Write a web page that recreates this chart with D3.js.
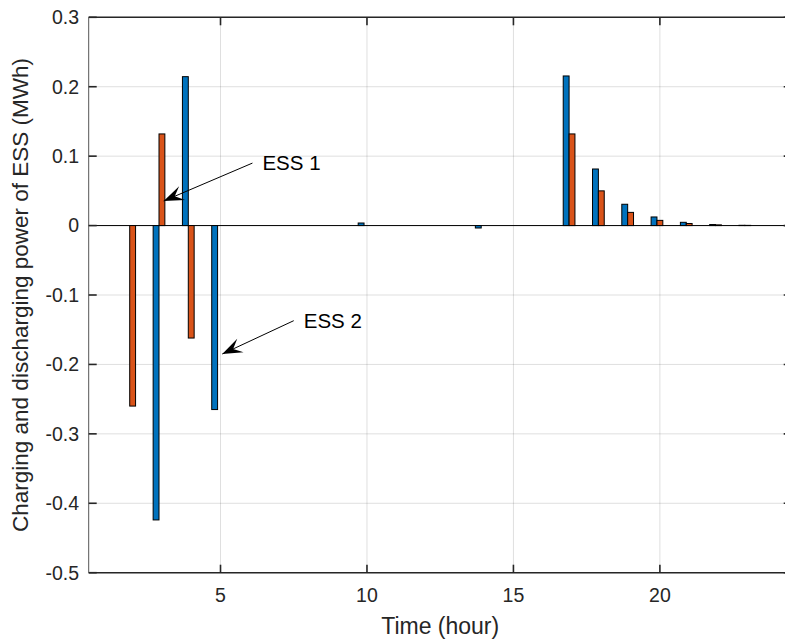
<!DOCTYPE html>
<html>
<head>
<meta charset="utf-8">
<script src="https://cdn.jsdelivr.net/npm/d3@7"></script>
<style>
  html, body { margin: 0; padding: 0; background: #fff; }
  svg { display: block; font-family: "Liberation Sans", Arial, Helvetica, sans-serif; }
</style>
</head>
<body>
<div id="chart"></div>
<script>
// Hourly charging (+) / discharging (-) power of the two storage units
const hours = d3.range(1, 25);
const ess1 = [0, -0.260, 0.132, -0.162, 0, 0, 0, 0, 0, 0, 0, 0,
              0, 0, 0, 0, 0.132, 0.050, 0.019, 0.0075, 0.003, 0.001, 0.0003, 0];
const ess2 = [0, 0, -0.424, 0.2145, -0.265, 0, 0, 0, 0, 0.0037, 0, 0,
              0, -0.0035, 0, 0, 0.2155, 0.0815, 0.0307, 0.0124, 0.0047, 0.0015, 0.0004, 0];
const xTicks = [5, 10, 15, 20];
const yTicks = [-0.5, -0.4, -0.3, -0.2, -0.1, 0, 0.1, 0.2, 0.3];
const yTickLabels = ["-0.5", "-0.4", "-0.3", "-0.2", "-0.1", "0", "0.1", "0.2", "0.3"];
// Callouts: text, tail point and arrow tip in data units
const callouts = [
  { text: "ESS 1", tail: [6.09, 0.090], tip: [3.06, 0.0354] },
  { text: "ESS 2", tail: [7.50, -0.137], tip: [5.06, -0.185] }
];

const W = 785, H = 644;
const plot = { left: 88.7, top: 17.3, right: 791.7, bottom: 572.7 };
const barWidth = 0.2, ess2Offset = -0.2;
const colors = { ess1: "#D95319", ess2: "#0072BD" };
const axisColor = "#262626";

const svg = d3.select("#chart").append("svg").attr("width", W).attr("height", H);

const x = d3.scaleLinear().domain([0.5, 24.5]).range([plot.left, plot.right]);
const y = d3.scaleLinear().domain([-0.5, 0.3]).range([plot.bottom, plot.top]);

// grid
const grid = svg.append("g").attr("stroke", axisColor).attr("stroke-opacity", 0.15).attr("stroke-width", 1);
grid.selectAll("line.gx").data(xTicks).join("line")
  .attr("x1", d => x(d)).attr("x2", d => x(d)).attr("y1", plot.top).attr("y2", plot.bottom);
grid.selectAll("line.gy").data(yTicks).join("line")
  .attr("x1", plot.left).attr("x2", plot.right).attr("y1", d => y(d)).attr("y2", d => y(d));

// baseline
svg.append("line").attr("x1", plot.left).attr("x2", plot.right)
  .attr("y1", y(0)).attr("y2", y(0)).attr("stroke", "#000").attr("stroke-width", 1);

// bars (zero-height bars leave only a faint outline on the baseline)
function drawBars(values, offset, color) {
  svg.append("g").selectAll("rect").data(hours.map((h, i) => ({ h, v: values[i] }))).join("rect")
    .attr("x", d => x(d.h + offset - barWidth / 2))
    .attr("width", d => x(d.h + offset + barWidth / 2) - x(d.h + offset - barWidth / 2))
    .attr("y", d => y(Math.max(0, d.v)))
    .attr("height", d => Math.abs(y(d.v) - y(0)))
    .attr("fill", color)
    .attr("stroke", "#000")
    .attr("stroke-opacity", d => d.v === 0 ? 0.3 : 1)
    .attr("stroke-width", d => d.v === 0 ? 2 : 1);
}
drawBars(ess2, ess2Offset, colors.ess2);
drawBars(ess1, 0, colors.ess1);

// axes
const tickLen = 8;
const axisG = svg.append("g").attr("fill", "none").attr("stroke", axisColor);
axisG.append("line").attr("x1", plot.left).attr("x2", plot.right).attr("y1", plot.bottom).attr("y2", plot.bottom).attr("stroke-width", 1.6);
axisG.append("line").attr("x1", plot.left).attr("x2", plot.right).attr("y1", plot.top).attr("y2", plot.top).attr("stroke-width", 1.6);
axisG.append("line").attr("x1", plot.left).attr("x2", plot.left).attr("y1", plot.top).attr("y2", plot.bottom).attr("stroke-width", 1).attr("stroke", "#555");
axisG.append("line").attr("x1", plot.right).attr("x2", plot.right).attr("y1", plot.top).attr("y2", plot.bottom).attr("stroke-width", 1);

xTicks.forEach(t => {
  axisG.append("line").attr("x1", x(t)).attr("x2", x(t)).attr("y1", plot.bottom).attr("y2", plot.bottom - tickLen).attr("stroke-width", 1.6);
  axisG.append("line").attr("x1", x(t)).attr("x2", x(t)).attr("y1", plot.top).attr("y2", plot.top + tickLen).attr("stroke-width", 1.6);
});
yTicks.forEach(t => {
  axisG.append("line").attr("x1", plot.left).attr("x2", plot.left + tickLen).attr("y1", y(t)).attr("y2", y(t)).attr("stroke-width", 1.6);
  axisG.append("line").attr("x1", plot.right).attr("x2", plot.right - tickLen).attr("y1", y(t)).attr("y2", y(t)).attr("stroke-width", 1.6);
});

// tick labels
svg.append("g").selectAll("text").data(xTicks).join("text")
  .attr("x", d => x(d)).attr("y", 602)
  .attr("text-anchor", "middle").attr("font-size", 19.5).attr("fill", axisColor)
  .text(d => d);
svg.append("g").selectAll("text").data(yTicks).join("text")
  .attr("x", 79).attr("y", d => y(d)).attr("dy", "0.35em")
  .attr("text-anchor", "end").attr("font-size", 19.5).attr("fill", axisColor)
  .text((d, i) => yTickLabels[i]);

// axis titles
svg.append("text").attr("x", (plot.left + plot.right) / 2).attr("y", 634)
  .attr("text-anchor", "middle").attr("font-size", 23).attr("fill", axisColor)
  .text("Time (hour)");
svg.append("text")
  .attr("transform", `translate(28,${(plot.top + plot.bottom) / 2}) rotate(-90)`)
  .attr("text-anchor", "middle").attr("font-size", 22.5).attr("fill", axisColor)
  .text("Charging and discharging power of ESS (MWh)");

// callout arrows
function arrowHead(tip, tail, len, halfW, back) {
  const dx = tail[0] - tip[0], dy = tail[1] - tip[1];
  const L = Math.hypot(dx, dy), ux = dx / L, uy = dy / L;
  const px = -uy, py = ux;
  const bx = tip[0] + ux * len, by = tip[1] + uy * len;
  const ix = tip[0] + ux * len * back, iy = tip[1] + uy * len * back;
  return `M${tip[0]},${tip[1]}L${bx + px * halfW},${by + py * halfW}L${ix},${iy}L${bx - px * halfW},${by - py * halfW}Z`;
}
callouts.forEach(c => {
  const tail = [x(c.tail[0]), y(c.tail[1])];
  const tip = [x(c.tip[0]), y(c.tip[1])];
  svg.append("line").attr("x1", tail[0]).attr("y1", tail[1]).attr("x2", tip[0]).attr("y2", tip[1])
    .attr("stroke", "#000").attr("stroke-width", 1);
  svg.append("path").attr("d", arrowHead(tip, tail, 20, 7.5, 0.6)).attr("fill", "#000");
  svg.append("text").attr("x", tail[0] + 10).attr("y", tail[1]).attr("dy", "0.35em")
    .attr("font-size", 20.5).attr("fill", "#000").text(c.text);
});
</script>
</body>
</html>
